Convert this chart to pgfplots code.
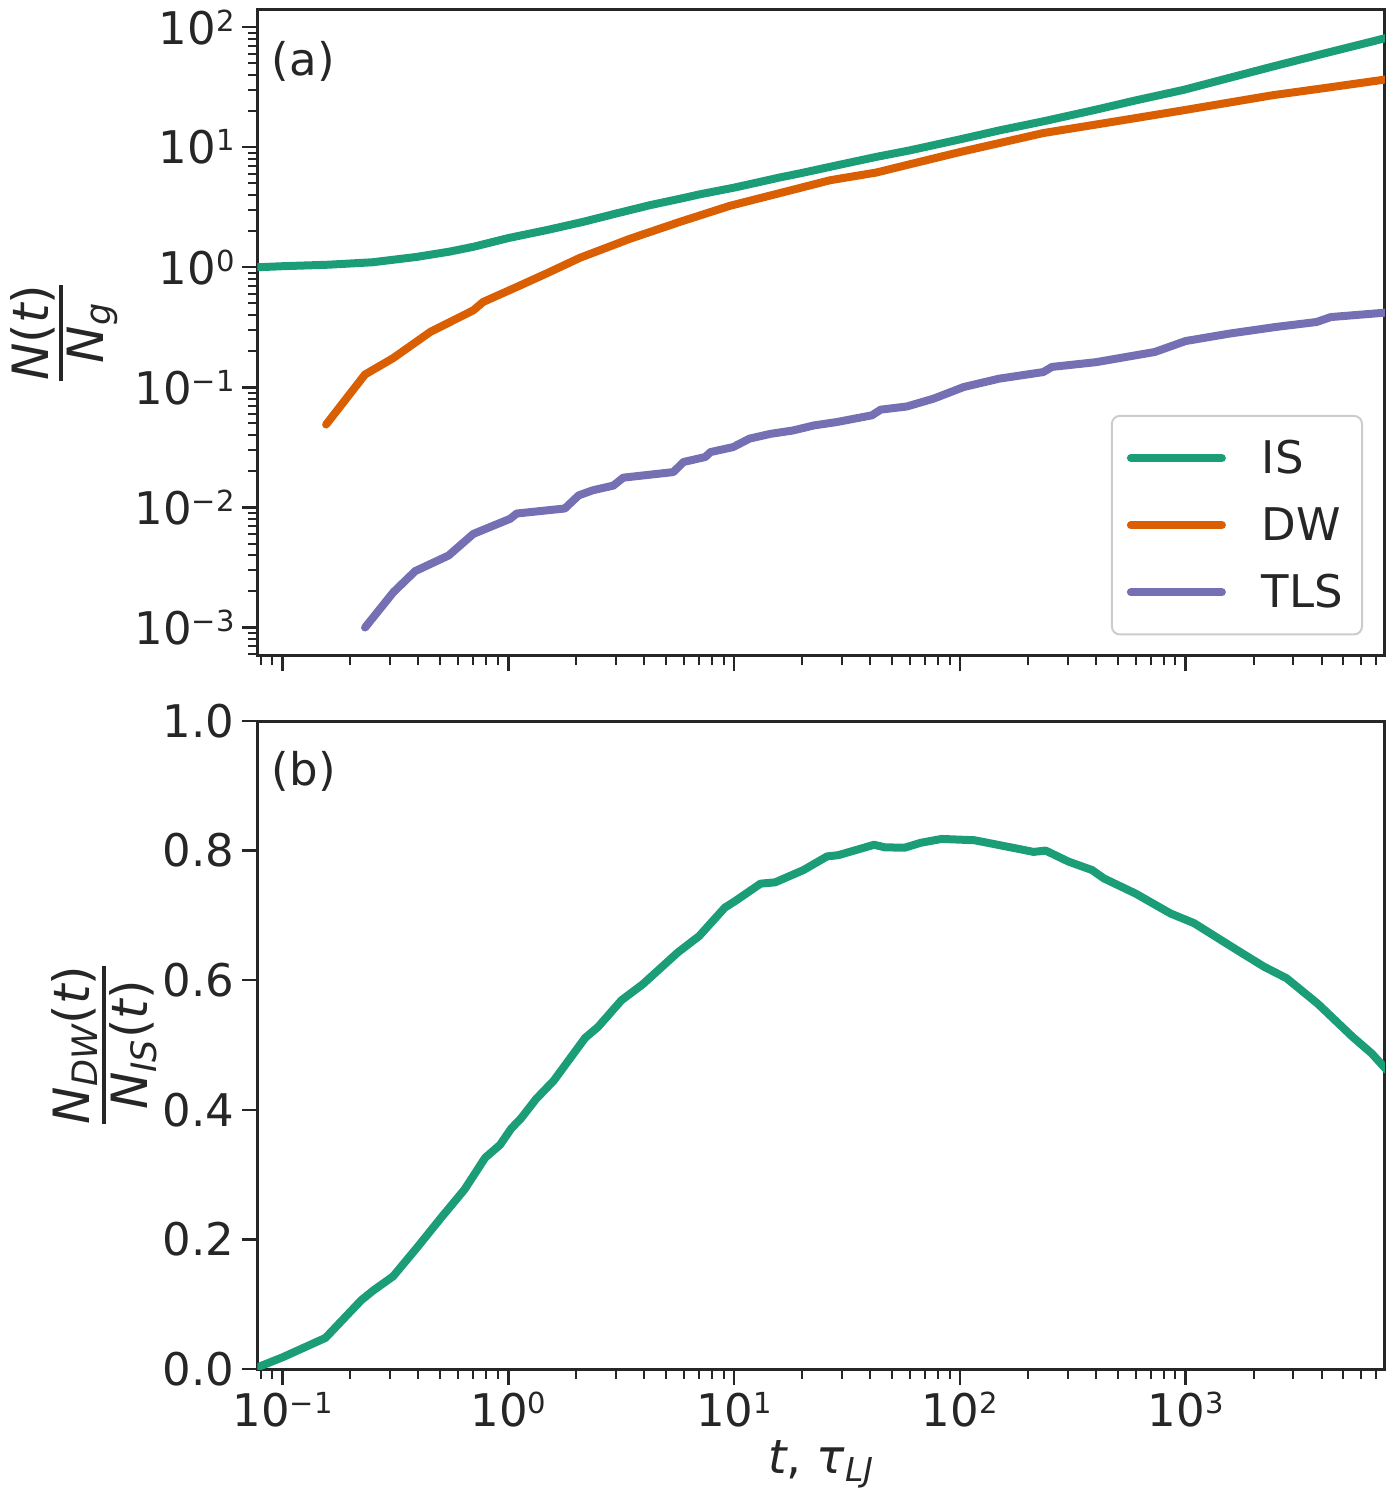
\documentclass[border=0pt]{standalone}
\usepackage{fontspec}
\setmainfont{DejaVu Sans}
\usepackage{amsmath}
\usepackage{pgfplots}
\pgfplotsset{compat=1.18}
\definecolor{tc}{HTML}{262626}
\definecolor{cIS}{HTML}{1B9E77}
\definecolor{cDW}{HTML}{D95F02}
\definecolor{cTLS}{HTML}{7570B3}
\definecolor{lgd}{HTML}{CCCCCC}
\newcommand\tp[1]{10\raisebox{6.5pt}{\fontsize{14.5}{15}\selectfont #1}}
\newcommand\tfont{\fontsize{22.5}{27}\selectfont}

\pgfplotstableread{
t N
0.0775 1.00
0.1 1.02
0.16 1.05
0.25 1.10
0.394 1.22
0.55 1.35
0.70 1.48
1.0 1.75
1.5 2.05
2.15 2.39
3.0 2.8
4.25 3.29
6.0 3.78
7.06 4.05
10 4.6
16 5.6
20 6.1
30 7.2
42.7 8.3
60 9.4
100 11.6
150 13.8
234 16.4
400 20.5
600 24.5
980 30
1500 37
2440 47
4000 59.5
6000 72
7700 81
}\tIS

\pgfplotstableread{
t N
0.156 0.049
0.232 0.128
0.309 0.175
0.451 0.289
0.70 0.438
0.774 0.514
1.09 0.685
1.5 0.90
2.08 1.20
3.47 1.73
5.77 2.39
9.6 3.25
16 4.15
26.6 5.3
42.7 6.15
60 7.2
100 9.1
234 13.1
500 16.5
980 20.3
2440 27.1
4000 30.8
7760 36.7
}\tDW

\pgfplotstableread{
t N
0.232 0.001
0.310 0.00197
0.387 0.00295
0.544 0.00398
0.70 0.00602
1.02 0.00805
1.09 0.0089
1.78 0.0098
2.05 0.0126
2.37 0.0139
2.92 0.0152
3.23 0.0177
5.38 0.0197
5.97 0.0239
7.46 0.0263
7.86 0.0289
9.9 0.0318
11.7 0.0374
14.5 0.041
18.2 0.0437
22.6 0.0482
28.5 0.0514
40.8 0.0585
44.6 0.0652
58.3 0.0693
76.5 0.0805
104 0.1006
149 0.118
234 0.134
256 0.148
401 0.162
730 0.197
1000 0.243
1560 0.28
2500 0.318
3800 0.35
4400 0.385
7700 0.419
}\tTLS

\pgfplotstableread{
t r
0.078 0.003
0.1 0.018
0.155 0.048
0.223 0.106
0.252 0.121
0.309 0.143
0.40 0.19
0.50 0.232
0.64 0.277
0.79 0.326
0.92 0.346
1.03 0.371
1.14 0.387
1.33 0.417
1.59 0.445
2.19 0.511
2.5 0.528
3.17 0.569
3.95 0.594
5.64 0.643
7.0 0.668
9.1 0.712
10.1 0.722
13.1 0.749
15.2 0.751
20.3 0.770
25.8 0.791
29 0.793
41.7 0.809
46.6 0.805
57 0.8045
67 0.812
83 0.818
116 0.816
147 0.809
212 0.798
240 0.800
303 0.783
385 0.770
435 0.757
598 0.734
857 0.703
1090 0.688
1680 0.647
2220 0.621
2800 0.603
3840 0.564
5470 0.513
6670 0.487
7800 0.461
}\tR

\pgfplotsset{every axis plot/.append style={line width=4pt, line join=round, line cap=round}}

\begin{document}
\begin{tikzpicture}
\useasboundingbox (-128.75pt,-66pt) rectangle (569.25pt,684.5pt);
\begin{axis}[
  scale only axis, width=563.75pt, height=322.75pt,
  at={(0pt,356.75pt)}, anchor=south west,
  xmode=log, ymode=log,
  xmin=0.0775, xmax=7640, ymin=0.000585, ymax=138.7,
  axis line style={tc, line width=1.5pt},
  tick align=outside, tick pos=left,
  major tick length=8pt, minor tick length=5pt,
  every major tick/.append style={line width=1.25pt, tc},
  every minor tick/.append style={line width=1pt, tc},
  xtick={0.1,1,10,100,1000},
  minor xtick={0.08,0.09,0.2,0.3,0.4,0.5,0.6,0.7,0.8,0.9,2,3,4,5,6,7,8,9,20,30,40,50,60,70,80,90,200,300,400,500,600,700,800,900,2000,3000,4000,5000,6000,7000},
  tick label style={font=\tfont, text=tc},
  xticklabels={},
  ytick={0.001,0.01,0.1,1,10,100},
  yticklabels={\tp{−3},\tp{−2},\tp{−1},\tp{0},\tp{1},\tp{2}},
  minor ytick={0.0006,0.0007,0.0008,0.0009,0.002,0.003,0.004,0.005,0.006,0.007,0.008,0.009,0.02,0.03,0.04,0.05,0.06,0.07,0.08,0.09,0.2,0.3,0.4,0.5,0.6,0.7,0.8,0.9,2,3,4,5,6,7,8,9,20,30,40,50,60,70,80,90},
  every axis y label/.style={at={(axis description cs:-0.1713,0.5)}, anchor=center, rotate=90, font=\fontsize{25}{30}\selectfont, text=tc},
  ylabel={$\genfrac{}{}{2pt}{1}{\mbox{\itshape N\upshape(\itshape t\upshape)}}{\mbox{\itshape N\textsubscript{g}}}$},
  legend image code/.code={\draw[#1, line width=4pt, line cap=round] (0pt,0pt) -- (45.5pt,0pt);},
  legend cell align=left,
  legend style={at={(axis description cs:0.9805,0.031)}, anchor=south east,
    draw=lgd, line width=1pt, rounded corners=4pt, fill=white,
    font=\tfont, text=tc,
    inner xsep=7.5pt, inner ysep=10pt, row sep=11.5pt, column sep=16pt},
]
\addplot[cIS] table[x=t,y=N] {\tIS};
\addlegendentry{IS}
\addplot[cDW] table[x=t,y=N] {\tDW};
\addlegendentry{DW}
\addplot[cTLS] table[x=t,y=N] {\tTLS};
\addlegendentry{TLS}
\node[anchor=base west, inner sep=0pt, font=\tfont, text=tc] at (axis description cs:0.0124,0.899) {(a)};
\end{axis}

\begin{axis}[
  scale only axis, width=563.75pt, height=324pt,
  at={(0pt,0pt)}, anchor=south west,
  xmode=log,
  xmin=0.0775, xmax=7640, ymin=0, ymax=1,
  axis line style={tc, line width=1.5pt},
  tick align=outside, tick pos=left,
  major tick length=8pt, minor tick length=5pt,
  every major tick/.append style={line width=1.25pt, tc},
  every minor tick/.append style={line width=1pt, tc},
  xtick={0.1,1,10,100,1000},
  minor xtick={0.08,0.09,0.2,0.3,0.4,0.5,0.6,0.7,0.8,0.9,2,3,4,5,6,7,8,9,20,30,40,50,60,70,80,90,200,300,400,500,600,700,800,900,2000,3000,4000,5000,6000,7000},
  tick label style={font=\tfont, text=tc},
  xticklabels={\tp{−1},\tp{0},\tp{1},\tp{2},\tp{3}},
  ytick={0,0.2,0.4,0.6,0.8,1.0},
  yticklabels={0.0,0.2,0.4,0.6,0.8,1.0},
  every axis y label/.style={at={(axis description cs:-0.1358,0.5)}, anchor=center, rotate=90, font=\fontsize{25}{30}\selectfont, text=tc},
  ylabel={$\genfrac{}{}{2pt}{1}{\mbox{\itshape N\textsubscript{DW}\upshape(\itshape t\upshape)}}{\mbox{\itshape N\textsubscript{IS}\upshape(\itshape t\upshape)}}$},
  every axis x label/.style={at={(axis description cs:0.5,-0.162)}, anchor=base, font=\fontsize{23.5}{28}\selectfont, text=tc},
  xlabel={\itshape t\upshape, \itshape τ\textsubscript{LJ}},
]
\addplot[cIS] table[x=t,y=r] {\tR};
\node[anchor=base west, inner sep=0pt, font=\tfont, text=tc] at (axis description cs:0.0124,0.8997) {(b)};
\end{axis}
\end{tikzpicture}
\end{document}
